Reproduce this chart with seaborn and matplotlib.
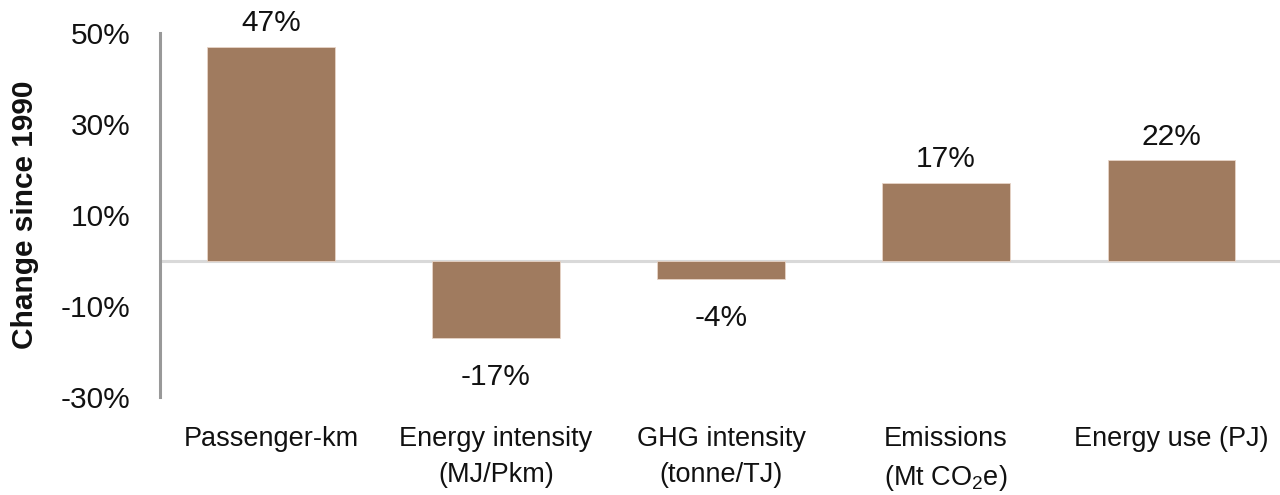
import matplotlib
matplotlib.use("Agg")
import matplotlib.pyplot as plt
import seaborn as sns
import pandas as pd

# Change since 1990 for each indicator (percent)
categories = [
    "Passenger-km",
    "Energy intensity\n(MJ/Pkm)",
    "GHG intensity\n(tonne/TJ)",
    "Emissions\n(Mt CO$_\\mathregular{2}$e)",
    "Energy use (PJ)",
]
values = [47, -17, -4, 17, 22]
value_labels = ["47%", "-17%", "-4%", "17%", "22%"]
y_ticks = [-30, -10, 10, 30, 50]
y_tick_labels = ["-30%", "-10%", "10%", "30%", "50%"]

sns.set_theme(style="white")
plt.rcParams["font.family"] = ["Liberation Sans", "DejaVu Sans"]
plt.rcParams["mathtext.fontset"] = "custom"
plt.rcParams["mathtext.rm"] = "Liberation Sans"

bar_color = "#A07B5F"
text_color = "#111111"
df = pd.DataFrame({"category": categories, "value": values})

fig = plt.figure(figsize=(12.8, 4.95), dpi=100)
ax = fig.add_axes([160 / 1280, 1 - 397 / 495, 1 - 160 / 1280, (397 - 33) / 495])

sns.barplot(data=df, x="category", y="value", color=bar_color, width=0.565,
            saturation=1, edgecolor="#E8D5C8", linewidth=0.6, ax=ax, zorder=2)

ax.axhline(0, color="#D9D9D9", lw=2.2, zorder=1)

ax.set_ylim(-30, 50)
ax.set_xlim(-0.493, 4.484)
ax.set_yticks(y_ticks)
ax.set_yticklabels(y_tick_labels)
ax.tick_params(axis="y", length=0, pad=21, labelsize=21.5, colors=text_color)
ax.tick_params(axis="x", length=0, pad=21, labelsize=19.5, colors=text_color)
for lbl in ax.get_xticklabels():
    lbl.set_linespacing(1.5)
    lbl.set_verticalalignment("top")

for s in ["top", "right", "bottom"]:
    ax.spines[s].set_visible(False)
ax.spines["left"].set_color("#999999")
ax.spines["left"].set_linewidth(2.2)

ax.set_xlabel("")
ax.set_ylabel("Change since 1990", fontsize=21.5, fontweight="bold", color=text_color, labelpad=16)

for i, (v, txt) in enumerate(zip(values, value_labels)):
    if v >= 0:
        ax.annotate(txt, (i, v), xytext=(0, 7), textcoords="offset points",
                    ha="center", va="bottom", fontsize=21.5, color=text_color)
    else:
        ax.annotate(txt, (i, v), xytext=(0, -18), textcoords="offset points",
                    ha="center", va="top", fontsize=21.5, color=text_color)

fig.savefig("out.png", dpi=100)
